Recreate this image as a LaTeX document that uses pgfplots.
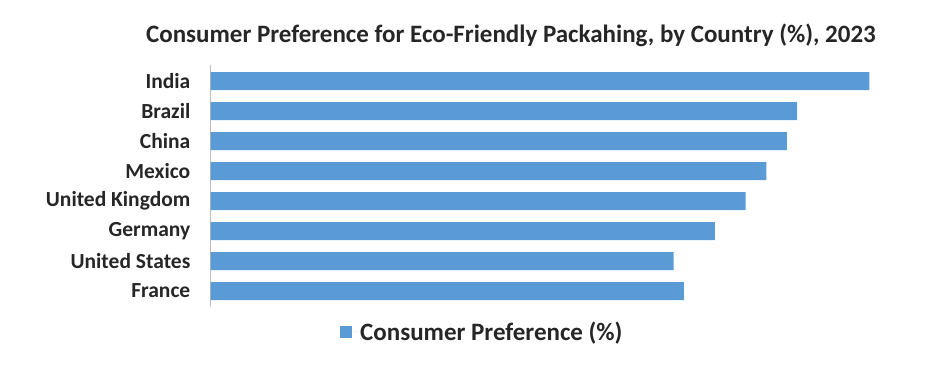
\documentclass[border=0pt]{standalone}
\usepackage{pgfplots}
\pgfplotsset{compat=1.18}
\usepackage{fontspec}
\setmainfont{Carlito}
\definecolor{barblue}{RGB}{91,155,213}
\definecolor{axgray}{RGB}{191,191,191}
\begin{document}
\begin{tikzpicture}[x=1pt,y=1pt]
\useasboundingbox (0,0) rectangle (952,368);
\begin{axis}[
  at={(210.5pt,61pt)}, anchor=south west,
  scale only axis, width=720.5pt, height=242pt,
  xbar, bar width=18pt,
  xmin=0, xmax=70,
  ymin=-0.533, ymax=7.533, y dir=reverse,
  axis x line=none,
  axis y line*=left,
  y axis line style={draw=axgray, line width=0.8pt, -},
  ytick={0,...,7},
  yticklabels={India,Brazil,China,Mexico,United Kingdom,Germany,United States,France},
  major tick length=0pt,
  yticklabel style={font=\fontsize{21.5}{24}\selectfont\bfseries, text=black!85, inner xsep=0pt, xshift=-20pt},
  legend style={at={(0.1797,-0.103)}, anchor=west, draw=none, fill=none,
    font=\fontsize{25}{29}\selectfont\bfseries, text=black!85, inner sep=0pt,
    legend cell align=left},
  legend image code/.code={\fill[barblue] (0pt,-6pt) rectangle (12pt,6pt); \path (0pt,0pt) -- (18pt,0pt);},
]
\addplot[fill=barblue, draw=none] coordinates {
 (64,0) (57,1) (56,2) (54,3) (52,4) (49,5) (45,6) (46,7)};
\addlegendentry{Consumer Preference (\%)}
\end{axis}
\node[font=\fontsize{25}{30}\selectfont\bfseries, text=black!85] at (511,333) {Consumer Preference for Eco-Friendly Packahing, by Country (\%), 2023};
\end{tikzpicture}
\end{document}
